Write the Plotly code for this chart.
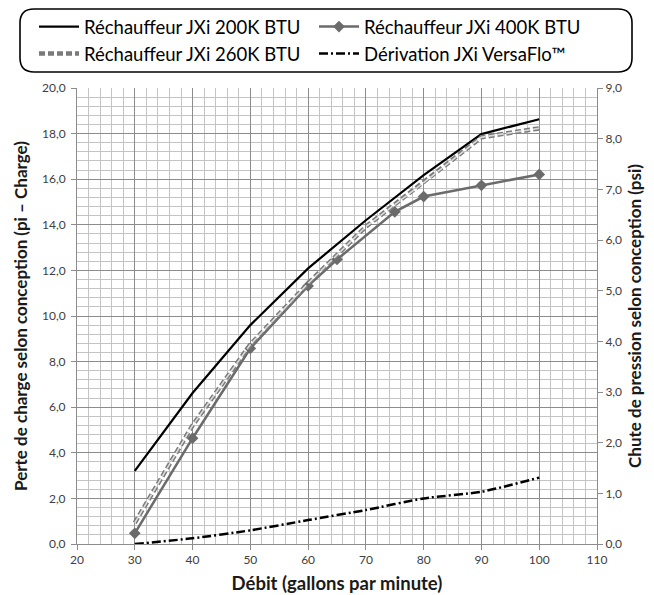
import plotly.graph_objects as go

flow = [30, 40, 50, 60, 70, 80, 90, 100]
jxi200 = [3.21, 6.62, 9.6, 12.09, 14.2, 16.18, 17.98, 18.63]
flow400 = [30, 40, 50, 60, 65, 75, 80, 90, 100]
jxi400 = [0.47, 4.64, 8.58, 11.32, 12.48, 14.57, 15.24, 15.73, 16.21]
jxi260 = [0.93, 5.2, 8.75, 11.43, 13.92, 15.85, 17.84, 18.23]
bypass = [0.0, 0.25, 0.6, 1.05, 1.49, 2.0, 2.29, 2.91]

names = ["Réchauffeur JXi 200K BTU", "Réchauffeur JXi 400K BTU",
         "Réchauffeur JXi 260K BTU", "Dérivation JXi VersaFlo™"]

OFF = 8  # page body margin
W, H = 654 - OFF, 595 - OFF
# plot area in screenshot pixels: left 77, right 597, top 88, bottom 544
L, T = 77 - OFF, 88 - OFF
pw, ph = 520, 456
R, B = W - L - pw, H - T - ph

FONT = "Lato, 'Open Sans', sans-serif"

fig = go.Figure()
fig.add_trace(go.Scatter(x=flow, y=jxi200, mode="lines", name=names[0],
                         line=dict(color="#000000", width=2.2)))
fig.add_trace(go.Scatter(x=flow400, y=jxi400, mode="lines+markers", name=names[1],
                         line=dict(color="#6b6b6b", width=2.5),
                         marker=dict(symbol="diamond", size=9, color="#6b6b6b")))
fig.add_trace(go.Scatter(x=flow, y=jxi260, mode="lines", name=names[2],
                         line=dict(color="#7a7a7a", width=4.5, dash="6px,3px")))
fig.add_trace(go.Scatter(x=flow, y=bypass, mode="lines", name=names[3],
                         line=dict(color="#000000", width=2.5, dash="9px,3px,2px,3px",
                                   shape="spline", smoothing=0.6)))
fig.add_trace(go.Scatter(x=flow, y=jxi260, mode="lines", showlegend=False,
                         hoverinfo="skip",
                         line=dict(color="#dcdcdc", width=1.6, dash="6px,3px")))
fig.add_trace(go.Scatter(x=[None], y=[None], yaxis="y2", showlegend=False,
                         hoverinfo="skip", mode="lines"))

# screenshot px -> paper coords
def px_x(p):
    return (p - OFF - L) / pw

def px_y(p):
    return (H - B - (p - OFF)) / ph

# rounded legend frame
x0, x1, y0, y1, r = 20, 632, 9, 72, 14
path = (f"M {px_x(x0 + r)},{px_y(y0)} L {px_x(x1 - r)},{px_y(y0)} "
        f"Q {px_x(x1)},{px_y(y0)} {px_x(x1)},{px_y(y0 + r)} "
        f"L {px_x(x1)},{px_y(y1 - r)} Q {px_x(x1)},{px_y(y1)} {px_x(x1 - r)},{px_y(y1)} "
        f"L {px_x(x0 + r)},{px_y(y1)} Q {px_x(x0)},{px_y(y1)} {px_x(x0)},{px_y(y1 - r)} "
        f"L {px_x(x0)},{px_y(y0 + r)} Q {px_x(x0)},{px_y(y0)} {px_x(x0 + r)},{px_y(y0)} Z")
fig.add_shape(type="path", path=path, xref="paper", yref="paper",
              line=dict(color="#000000", width=1.6), fillcolor="rgba(0,0,0,0)")

tickfont = dict(family=FONT, size=12, color="#404040")
titlefont = dict(family=FONT, size=17, color="#1a1a1a", weight="bold")

fig.update_layout(
    width=W, height=H,
    margin=dict(l=L, r=R, t=T, b=B, autoexpand=False),
    paper_bgcolor="white", plot_bgcolor="white",
    separators=", ",
    font=dict(family=FONT),
    showlegend=True,
    legend=dict(orientation="h", x=px_x(34), y=px_y(8), xanchor="left", yanchor="top",
                font=dict(family=FONT, size=18.5, color="#000000"),
                entrywidth=225, entrywidthmode="pixels",
                tracegroupgap=0, itemwidth=40,
                bgcolor="rgba(0,0,0,0)", borderwidth=0),
    xaxis=dict(range=[20, 110], dtick=10, tick0=20,
               showgrid=True, gridcolor="#8c8c8c", gridwidth=1,
               minor=dict(dtick=2, showgrid=True, gridcolor="#c4c4c4", gridwidth=1),
               showline=True, linecolor="#8c8c8c", linewidth=1,
               ticks="outside", ticklen=5, tickcolor="#8c8c8c",
               tickfont=tickfont, zeroline=False,
               title=dict(text="Débit (gallons par minute)",
                          font=dict(family=FONT, size=18.5, color="#1a1a1a", weight="bold"),
                          standoff=10)),
    yaxis=dict(range=[0, 20], dtick=2, tickformat=".1f",
               showgrid=True, gridcolor="#8c8c8c", gridwidth=1,
               minor=dict(dtick=0.4, showgrid=True, gridcolor="#c4c4c4", gridwidth=1),
               showline=True, linecolor="#8c8c8c", linewidth=1,
               ticks="outside", ticklen=5, tickcolor="#8c8c8c",
               ticklabelstandoff=3,
               tickfont=tickfont, zeroline=False,
               title=dict(text="Perte de charge selon conception (pi – Charge)",
                          font=titlefont, standoff=10)),
    yaxis2=dict(range=[0, 9], dtick=1, tickformat=".1f", overlaying="y", side="right",
                showgrid=False, showline=True, linecolor="#8c8c8c", linewidth=1,
                ticks="outside", ticklen=5, tickcolor="#8c8c8c",
                tickfont=tickfont, zeroline=False,
                title=dict(text="Chute de pression selon conception (psi)",
                           font=titlefont, standoff=8)),
)

fig.write_html("out.html")
